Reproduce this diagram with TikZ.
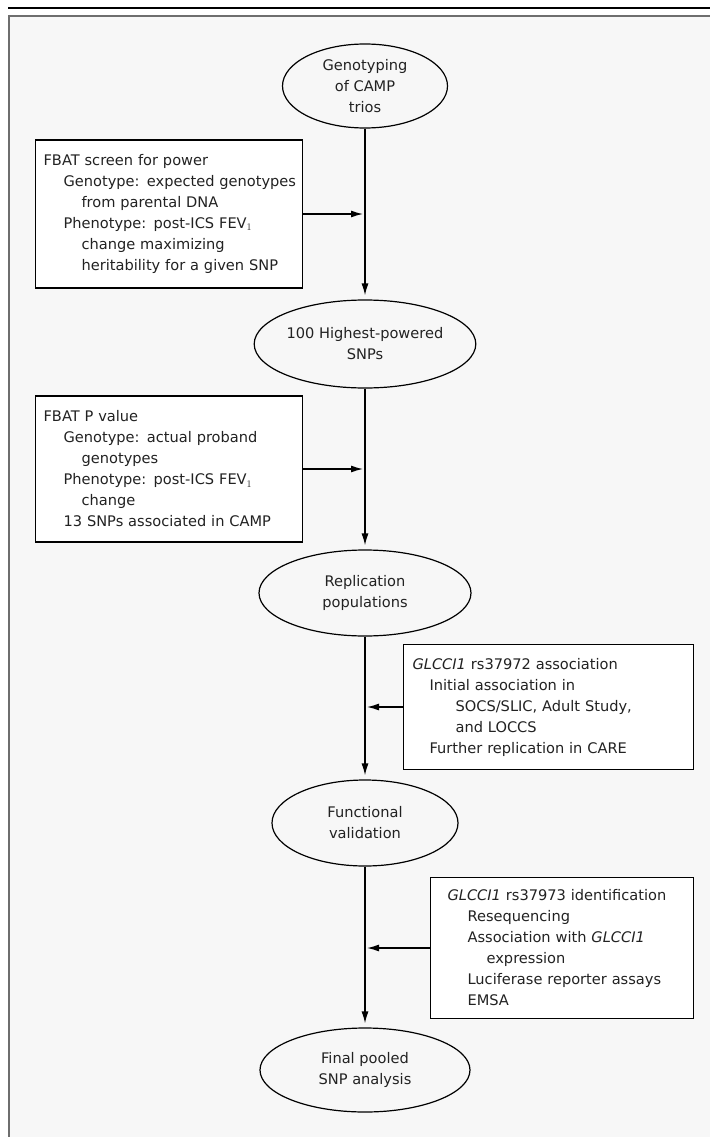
\documentclass[tikz,border=0pt]{standalone}
\usepackage{fontspec}
\setmainfont{DejaVu Sans}
\usetikzlibrary{shapes.geometric,arrows.meta}
\definecolor{bgc}{HTML}{F7F7F7}
\definecolor{framec}{HTML}{6E6E6E}
\definecolor{txt}{HTML}{222222}
\tikzset{
  oval/.style={ellipse, draw=black, line width=1.2pt, fill=bgc, align=center, inner sep=0pt, text=txt, font=\fontsize{14.6}{21}\selectfont},
  infobox/.style={draw=black, line width=1.2pt, fill=white, align=left, anchor=west, inner xsep=8pt, inner ysep=0pt, text=txt, font=\fontsize{14.6}{21}\selectfont},
  arr/.style={line width=1.3pt, -{Latex[length=12pt,width=7pt]}},
}
\newcommand{\ia}{\hspace*{20pt}}
\newcommand{\ib}{\hspace*{38pt}}
\begin{document}
\begin{tikzpicture}[x=1pt,y=-1pt]
\useasboundingbox (0,0) rectangle (710,1137);
\fill[white] (0,0) rectangle (710,1137);
\fill[bgc] (9,16) rectangle (710,1137);
\draw[black, line width=1.5pt] (8,8) -- (710,8);
\draw[framec, line width=2pt] (8,16) -- (710,16);
\draw[framec, line width=2pt] (9,15) -- (9,1137);

% ovals
\node[oval, minimum width=165pt, minimum height=84pt] (e1) at (365,86) {Genotyping\\of CAMP\\trios};
\node[oval, minimum width=188pt, minimum height=88pt] (e2) at (365,344) {100 Highest-powered\\SNPs};
\node[oval, minimum width=212pt, minimum height=86pt] (e3) at (365,593) {Replication\\populations};
\node[oval, minimum width=186pt, minimum height=86pt] (e4) at (365,823) {Functional\\validation};
\node[oval, minimum width=210pt, minimum height=84pt] (e5) at (365,1070) {Final pooled\\SNP analysis};

% boxes
\node[infobox, text width=251pt, minimum height=148pt] (b1) at (35,214) {FBAT screen for power\\
\ia\mbox{Genotype: expected genotypes}\\
\ib from parental DNA\\
\ia Phenotype: post-ICS FEV$_1$\\
\ib change maximizing\\
\ib heritability for a given SNP};
\node[infobox, text width=251pt, minimum height=146pt] (b2) at (35,469) {FBAT P value\\
\ia Genotype: actual proband\\
\ib genotypes\\
\ia Phenotype: post-ICS FEV$_1$\\
\ib change\\
\ia 13 SNPs associated in CAMP};
\node[infobox, text width=272pt, inner xsep=9pt, minimum height=125pt] (b3) at (403,707) {\textit{GLCCI1} rs37972 association\\
\hspace*{17pt}Initial association in\\
\hspace*{43pt}SOCS/SLIC, Adult Study,\\
\hspace*{43pt}and LOCCS\\
\hspace*{17pt}Further replication in CARE};
\node[infobox, text width=229pt, inner xsep=17pt, minimum height=141pt] (b4) at (430,948) {\textit{GLCCI1} rs37973 identification\\
\ia Resequencing\\
\ia Association with \textit{GLCCI1}\\
\hspace*{39pt}expression\\
\ia Luciferase reporter assays\\
\ia EMSA};

% junction points on main line
\coordinate (m1) at (365,214);
\coordinate (m2) at (365,469);
\coordinate (m3) at (365,707);
\coordinate (m4) at (365,948);

% connectors
\draw[arr, shorten >=4pt] (e1) -- (e2);
\draw[arr, shorten >=4pt] (e2) -- (e3);
\draw[arr, shorten >=4pt] (e3) -- (e4);
\draw[arr, shorten >=4pt] (e4) -- (e5);
\draw[arr, shorten >=2pt] (b1.east |- m1) -- (m1);
\draw[arr, shorten >=2pt] (b2.east |- m2) -- (m2);
\draw[arr, shorten >=2pt] (b3.west |- m3) -- (m3);
\draw[arr, shorten >=2pt] (b4.west |- m4) -- (m4);
\end{tikzpicture}
\end{document}
